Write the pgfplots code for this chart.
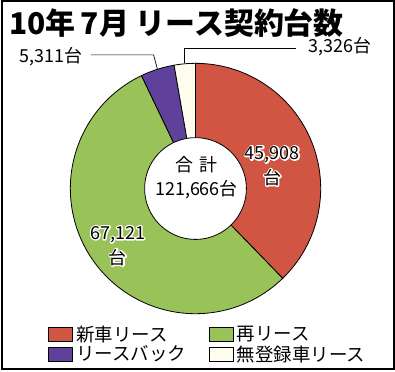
\documentclass[border=0pt]{standalone}
\usepackage{pgfplots}
\pgfplotsset{compat=1.18}
\usepackage{pgfplotstable}
\usepackage{fontspec}
\setmainfont{Noto Sans CJK JP}
\definecolor{cRed}{RGB}{208,85,66}
\definecolor{cGreen}{RGB}{153,195,88}
\definecolor{cPurple}{RGB}{95,65,155}
\definecolor{cCream}{RGB}{255,253,238}
% white outlined text drawn under the normal text
\newcommand\halo[1]{\leavevmode\rlap{\special{pdf:literal direct 1 Tr 2.8 w 1 j 1 1 1 RG}#1\special{pdf:literal direct 0 Tr}}#1}

\pgfplotstableread{
idx value
0 45908
1 67121
2 5311
3 3326
}\leasedata

\pgfplotstablegetelem{0}{value}\of\leasedata \edef\vA{\pgfplotsretval}
\pgfplotstablegetelem{1}{value}\of\leasedata \edef\vB{\pgfplotsretval}
\pgfplotstablegetelem{2}{value}\of\leasedata \edef\vC{\pgfplotsretval}
\pgfplotstablegetelem{3}{value}\of\leasedata \edef\vD{\pgfplotsretval}
\edef\vT{\fpeval{\vA+\vB+\vC+\vD}}
% clockwise from the top (90 degrees)
\edef\aA{\fpeval{90-360*\vA/\vT}}
\edef\aB{\fpeval{\aA-360*\vB/\vT}}
\edef\aC{\fpeval{\aB-360*\vC/\vT}}
\edef\aD{\fpeval{\aC-360*\vD/\vT}}
\def\cx{195}
\def\cy{182}
\def\Ro{125.5}
\def\Ri{51}

\begin{document}
\begin{tikzpicture}
\begin{axis}[
  width=395bp, height=371bp, scale only axis,
  xmin=0, xmax=395, ymin=0, ymax=371,
  hide axis, clip=false,
  legend columns=2,
  legend cell align=left,
  legend style={draw=none, fill=none, at={(axis cs:44,26)}, anchor=west,
    font=\fontsize{18.5bp}{19bp}\selectfont,
    row sep=0bp,
    nodes={inner sep=1.5bp},
    /tikz/every even column/.append style={column sep=21bp},
    /tikz/every odd column/.append style={column sep=2bp}},
  legend image code/.code={\draw[#1, draw=black, line width=0.9bp] (0bp,-7bp) rectangle (24bp,7bp);},
]
\addplot[fill=cRed, draw=black, line width=0.8bp, domain=\aA:90, samples=80, variable=\t]
  ({\cx+\Ro*cos(\t)}, {\cy+\Ro*sin(\t)}) -- (axis cs:\cx,\cy) -- cycle;
\addlegendentry{新車リース}
\addplot[fill=cGreen, draw=black, line width=0.8bp, domain=\aB:\aA, samples=100, variable=\t]
  ({\cx+\Ro*cos(\t)}, {\cy+\Ro*sin(\t)}) -- (axis cs:\cx,\cy) -- cycle;
\addlegendentry{再リース}
\addplot[fill=cPurple, draw=black, line width=0.8bp, domain=\aC:\aB, samples=20, variable=\t]
  ({\cx+\Ro*cos(\t)}, {\cy+\Ro*sin(\t)}) -- (axis cs:\cx,\cy) -- cycle;
\addlegendentry{リースバック}
\addplot[fill=cCream, draw=black, line width=0.8bp, domain=\aD:\aC, samples=20, variable=\t]
  ({\cx+\Ro*cos(\t)}, {\cy+\Ro*sin(\t)}) -- (axis cs:\cx,\cy) -- cycle;
\addlegendentry{無登録車リース}
% inner hole
\addplot[fill=white, draw=black, line width=0.8bp, domain=0:360, samples=120, variable=\t, forget plot]
  ({\cx+\Ri*cos(\t)}, {\cy+\Ri*sin(\t)}) -- cycle;
% leader lines
\addplot[black, line width=0.7bp, forget plot] coordinates {(90,316) (153,316) (156.7,302)};
\addplot[black, line width=0.7bp, forget plot] coordinates {(296,323) (184.2,323) (184.2,307.5)};
% texts
\node[anchor=west, font=\fontsize{30bp}{32bp}\selectfont\bfseries] at (axis cs:5,348) {10年\,7月 リース契約台数};
\node[font=\fontsize{18bp}{20bp}\selectfont] at (axis cs:50,314) {5,311台};
\node[font=\fontsize{18bp}{20bp}\selectfont] at (axis cs:340,324) {3,326台};
\node[font=\fontsize{18bp}{20bp}\selectfont] at (axis cs:196,206) {合\,\,計};
\node[font=\fontsize{18bp}{20bp}\selectfont] at (axis cs:196,181) {121,666台};
\node[font=\fontsize{18bp}{20bp}\selectfont] at (axis cs:272,216) {\halo{45,908}};
\node[font=\fontsize{18bp}{20bp}\selectfont] at (axis cs:272,193) {\halo{台}};
\node[font=\fontsize{18bp}{20bp}\selectfont] at (axis cs:117,136) {\halo{67,121}};
\node[font=\fontsize{18bp}{20bp}\selectfont] at (axis cs:117,113) {\halo{台}};
% frame
\draw[black, line width=2bp] (rel axis cs:0,0) ++(1bp,1bp) rectangle ([shift={(-1bp,-1bp)}]rel axis cs:1,1);
\end{axis}
\end{tikzpicture}
\end{document}
